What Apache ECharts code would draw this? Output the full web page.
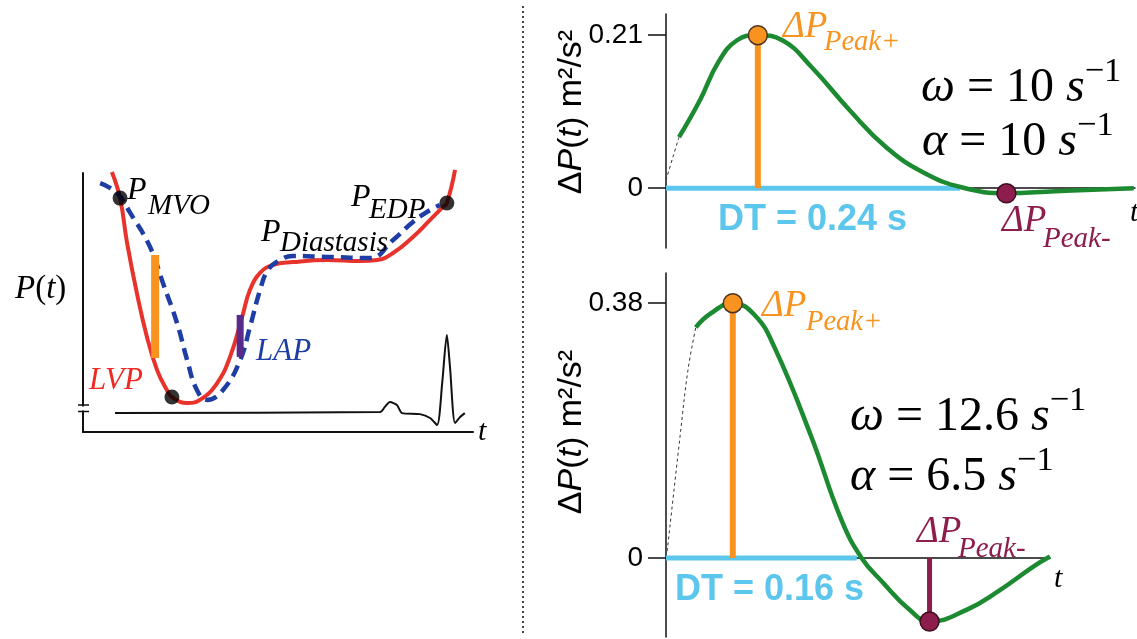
<!DOCTYPE html>
<html><head><meta charset="utf-8">
<script src="https://cdn.jsdelivr.net/npm/echarts@6/dist/echarts.min.js"></script>
<style>html,body{margin:0;padding:0;background:#fff}#c{width:1137px;height:639px}</style>
</head><body><div id="c"></div>
<script>
// ---------- Left panel (arbitrary units: t 0-100, P 0-100) ----------
const lvp = [[7.4,100.4],[9.5,90.3],[11.3,73.0],[13.8,53.7],[16.4,36.7],[19.0,23.9],[21.5,16.2],[22.8,13.5],[26.7,11.2],[30.0,12.4],[34.4,18.9],[37.7,29.0],[40.8,44.4],[42.8,54.8],[45.4,61.4],[48.7,64.5],[53.8,65.6],[62.6,66.4],[71.0,66.0],[75.4,66.4],[79.5,69.1],[84.6,75.3],[89.0,81.9],[92.3,86.9],[93.3,88.4],[95.4,101.2]];
const lap = [[4.4,96.1],[8.7,92.3],[12.1,84.6],[17.2,71.4],[20.5,57.5],[24.1,42.1],[26.7,27.8],[29.2,16.2],[31.8,12.4],[35.9,16.2],[40.3,27.8],[42.8,40.5],[45.4,54.8],[47.4,62.5],[50.5,66.4],[53.8,68.0],[62.6,67.6],[73.6,67.2],[79.5,74.1],[84.6,81.1],[89.0,85.7],[91.5,87.6]];
const ecg = [[8.2,7.3],[76.2,7.7],[77.4,9.7],[78.7,11.6],[80.5,10.4],[81.8,7.3],[86.4,6.9],[89.0,5.4],[90.8,2.7],[92.1,18.9],[93.3,37.5],[94.1,25.1],[95.4,3.5],[96.7,5.8],[97.9,7.3]];
const lvpDots = [[9.5,90.3],[22.8,13.5],[93.3,88.4]];
const orangeBarLeft = [[18.5,28.6],[18.5,68.3]];
const purpleBar = [[40.3,29.0],[40.3,45.2]];

// ---------- Top right panel (t in s, ΔP in m²/s²) ----------
const topLead = [[0,0.011],[0.0057,0.043],[0.0106,0.070]];
const topT = [0.0106,0.0278,0.0424,0.058,0.075,0.095,0.119,0.150,0.180,0.211,0.242,0.278,0.318,0.382];
const topV = [0.070,0.121,0.172,0.203,0.210,0.203,0.166,0.107,0.056,0.021,0.001,-0.007,-0.004,0.000];
const topPeakPlus = [0.075,0.21];
const topPeakMinus = [0.278,-0.007];
const topDT = 0.24;
const topTicks = [0,0.21];

// ---------- Bottom right panel ----------
const botLead = [[0.001,0.01],[0.0117,0.18],[0.0184,0.28],[0.025,0.344]];
const botT = [0.025,0.037,0.056,0.0745,0.091,0.122,0.147,0.164,0.182,0.204,0.221,0.252,0.280,0.308,0.322];
const botV = [0.344,0.364,0.380,0.362,0.314,0.180,0.057,0,-0.037,-0.077,-0.095,-0.0775,-0.048,-0.013,0.002];
const botPeakPlus = [0.056,0.38];
const botPeakMinus = [0.221,-0.095];
const botDT = 0.16;
const botTicks = [0,0.38];

const SERIF = '"Liberation Serif", "DejaVu Serif", serif';
const SANS = '"Liberation Sans", Arial, sans-serif';
const ORANGE = '#f7931e', GREEN = '#1c8a30', CYAN = '#5cc6ec', MAROON = '#8c1d4c';

const zip = (a,b) => a.map((v,i)=>[v,b[i]]);

function axisPair(gi, xmax, ymin, ymax, ticks){
  return {
    x: {gridIndex:gi, type:'value', min:0, max:xmax, axisLine:{onZero:true, lineStyle:{color:'#111', width:1.5}},
        axisTick:{show:false}, axisLabel:{show:false}, splitLine:{show:false}},
    y: {gridIndex:gi, type:'value', min:ymin, max:ymax,
        axisLine:{show:true, lineStyle:{color:'#111', width:1.5}},
        axisTick: ticks ? {show:true, customValues:ticks, length:18, lineStyle:{color:'#111', width:1.5}} : {show:false},
        axisLabel: ticks ? {show:true, customValues:ticks, margin:23, fontSize:28, color:'#000', fontFamily:SANS,
                     formatter:v=>String(v)} : {show:false},
        splitLine:{show:false}}
  };
}
const a0 = axisPair(0, 100, 0, 100, null);
a0.x.axisLine.lineStyle.width = 2; a0.y.axisLine.lineStyle.width = 2;
const a1 = axisPair(1, 0.383, -0.082, 0.239, topTicks);
const a2 = axisPair(2, 0.322, -0.118, 0.425, botTicks);

function line(gi, data, color, width, extra){
  return Object.assign({type:'line', xAxisIndex:gi, yAxisIndex:gi, data, symbol:'none', silent:true, clip:false,
    lineStyle:{color, width}}, extra||{});
}
function dot(gi, pt, color, size, border){
  return {type:'scatter', xAxisIndex:gi, yAxisIndex:gi, data:[pt], symbolSize:size, silent:true, z:6,
    itemStyle:{color, borderColor:border||color, borderWidth:border?1.5:0, opacity:1}};
}

const series = [
  // left
  line(0, ecg, '#111', 2, {smooth:0.25, z:2}),
  line(0, lvp, '#e8322c', 4, {smooth:0.45, z:3}),
  line(0, lap, '#1f3ea5', 4.5, {smooth:0.45, z:4, lineStyle:{color:'#1f3ea5', width:4.5, type:[12,7]}}),
  line(0, orangeBarLeft, ORANGE, 8, {z:4}),
  line(0, purpleBar, '#5a2a8a', 7, {z:5}),
  {type:'scatter', xAxisIndex:0, yAxisIndex:0, data:lvpDots, symbolSize:15, itemStyle:{color:'#000'}, z:6, silent:true},
  // top right
  line(1, topLead, '#333', 1, {smooth:0.4, lineStyle:{color:'#333', width:1, type:[3,3]}}),
  line(1, [[0,0],[topDT,0]], CYAN, 5, {z:2}),
  line(1, zip(topT, topV), GREEN, 4.5, {smooth:0.45, z:3}),
  line(1, [[topPeakPlus[0],0], topPeakPlus], ORANGE, 6, {z:4}),
  dot(1, topPeakPlus, ORANGE, 19, '#4a3320'),
  dot(1, topPeakMinus, MAROON, 19, '#3a1020'),
  // bottom right
  line(2, botLead, '#333', 1, {smooth:0.4, lineStyle:{color:'#333', width:1, type:[3,3]}}),
  line(2, [[0,0],[botDT,0]], CYAN, 5, {z:2}),
  line(2, zip(botT, botV), GREEN, 4.5, {smooth:0.45, z:3}),
  line(2, [[botPeakPlus[0],0], botPeakPlus], ORANGE, 6, {z:4}),
  line(2, [[botPeakMinus[0],0], botPeakMinus], MAROON, 5, {z:4}),
  dot(2, botPeakPlus, ORANGE, 19, '#4a3320'),
  dot(2, botPeakMinus, MAROON, 19, '#3a1020'),
];

function txt(text, x, y, size, color, opts){
  opts = opts || {};
  return {type:'text', x, y, z:50, rotation:opts.rotation||0, silent:true,
    style:{text, fill:color||'#000', fontSize:size, fontFamily:opts.family||SERIF,
      fontStyle:opts.italic===false?'normal':'italic', fontWeight:opts.bold?'bold':'normal',
      align:opts.align||'left', verticalAlign:'middle', rich:opts.rich}};
}
function mathLine(x, y, text, size){
  return {type:'text', x, y, z:50, silent:true,
    style:{text, fontFamily:SERIF, fontSize:size, fill:'#000', align:'left', verticalAlign:'middle',
      rich:{
        i:{fontFamily:SERIF, fontStyle:'italic', fontSize:size, lineHeight:58, verticalAlign:'bottom', fill:'#000'},
        n:{fontFamily:SERIF, fontSize:size, lineHeight:58, verticalAlign:'bottom', fill:'#000'},
        s:{fontFamily:SERIF, fontSize:size*0.72, lineHeight:32, verticalAlign:'top', fill:'#000'}
      }}};
}
const yLabRich = {
  n:{fontFamily:SANS, fontSize:34, fill:'#000'},
  i:{fontFamily:SANS, fontSize:34, fontStyle:'italic', fill:'#000'}
};
const yLabText = '{n|Δ}{i|P}{n|(}{i|t}{n|) m²/s²}';

const graphic = [
  {type:'line', z:50, silent:true, shape:{x1:523,y1:6,x2:523,y2:636}, style:{stroke:'#444', lineWidth:2, lineDash:[2,3]}},
  {type:'rect', z:60, silent:true, shape:{x:79,y:406.5,width:10,height:4}, style:{fill:'#fff'}},
  {type:'line', z:61, silent:true, shape:{x1:78,y1:405,x2:89,y2:405}, style:{stroke:'#111', lineWidth:1.5}},
  {type:'line', z:61, silent:true, shape:{x1:78,y1:411.5,x2:89,y2:411.5}, style:{stroke:'#111', lineWidth:1.5}},
  // left labels
  txt('P', 127, 191, 32),
  txt('MVO', 148, 206, 29),
  txt('P', 261, 233, 32),
  txt('Diastasis', 280, 243, 29),
  txt('P', 351, 198, 32),
  txt('EDP', 369, 210, 29),
  txt('LVP', 89, 381, 31, '#ee2a22'),
  txt('LAP', 256, 352, 31, '#1f3ea5'),
  txt('{i|P}{n|(}{i|t}{n|)}', 15, 289, 33, '#000', {rich:{
    i:{fontFamily:SERIF, fontStyle:'italic', fontSize:33, fill:'#000'},
    n:{fontFamily:SERIF, fontSize:33, fill:'#000'}}}),
  txt('t', 478, 432, 30),
  // top right
  txt(yLabText, 572, 112, 34, '#000', {rotation:Math.PI/2, align:'center', rich:yLabRich}),
  txt('ΔP', 783, 27, 37, ORANGE),
  txt('Peak+', 824, 43, 28.5, ORANGE),
  mathLine(921, 83, '{i|ω}{n| = 10 }{i|s}{s|−1}', 48),
  mathLine(922, 137, '{i|α}{n| = 10 }{i|s}{s|−1}', 48),
  txt('DT = 0.24 s', 718, 220, 36, CYAN, {family:SANS, italic:false, bold:true}),
  txt('ΔP', 1002, 221, 37, MAROON),
  txt('Peak-', 1043, 239, 29, MAROON),
  txt('t', 1130, 213, 30),
  // bottom right
  txt(yLabText, 572, 432, 34, '#000', {rotation:Math.PI/2, align:'center', rich:yLabRich}),
  txt('ΔP', 762, 306, 37, ORANGE),
  txt('Peak+', 806, 323, 28.5, ORANGE),
  mathLine(850, 412, '{i|ω}{n| = 12.6 }{i|s}{s|−1}', 48),
  mathLine(850, 472, '{i|α}{n| = 6.5 }{i|s}{s|−1}', 48),
  txt('DT = 0.16 s', 675, 590, 36, CYAN, {family:SANS, italic:false, bold:true}),
  txt('ΔP', 917, 532, 37, MAROON),
  txt('Peak-', 958, 549, 29, MAROON),
  txt('t', 1054, 579, 30),
];

const chart = echarts.init(document.getElementById('c'), null, {renderer:'canvas'});
chart.setOption({
  animation:false,
  backgroundColor:'#fff',
  grid:[
    {left:83, top:173, width:390, height:259},
    {left:666, top:14, width:469, height:234},
    {left:666, top:273, width:384, height:364}
  ],
  xAxis:[a0.x, a1.x, a2.x],
  yAxis:[a0.y, a1.y, a2.y],
  series,
  graphic
});
</script></body></html>
